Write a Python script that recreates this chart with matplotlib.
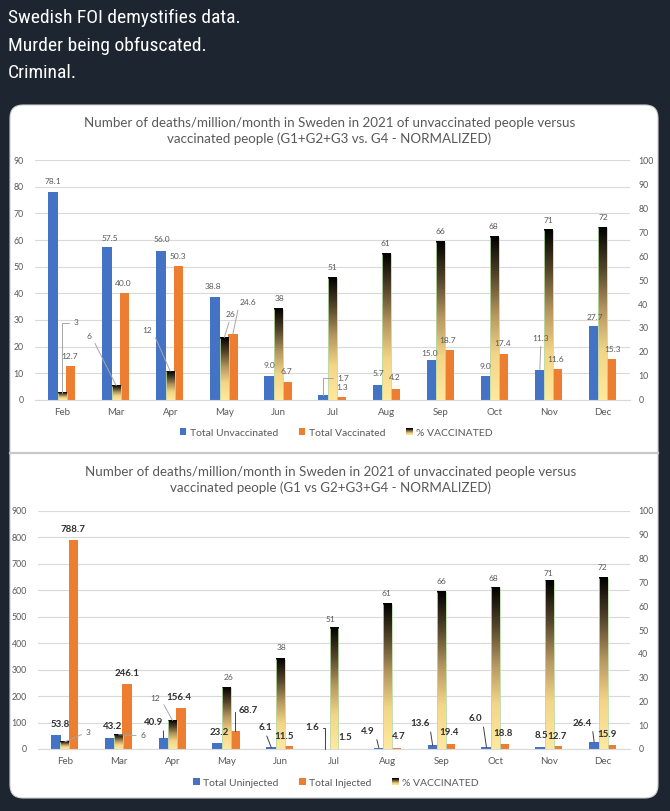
import matplotlib
matplotlib.use('Agg')
import matplotlib.pyplot as plt
import numpy as np
from matplotlib.patches import FancyBboxPatch, Rectangle, Patch
from matplotlib.colors import LinearSegmentedColormap
from matplotlib.legend_handler import HandlerBase
from matplotlib import font_manager, transforms
from matplotlib.lines import Line2D

# ---------------- data ----------------
months = ['Feb', 'Mar', 'Apr', 'May', 'Jun', 'Jul', 'Aug', 'Sep', 'Oct', 'Nov', 'Dec']
top_unvax = [78.1, 57.5, 56.0, 38.8, 9.0, 1.7, 5.7, 15.0, 9.0, 11.3, 27.7]
top_vax = [12.7, 40.0, 50.3, 24.6, 6.7, 1.3, 4.2, 18.7, 17.4, 11.6, 15.3]
pct_vax = [3, 6, 12, 26, 38, 51, 61, 66, 68, 71, 72]
bot_uninj = [53.8, 43.2, 40.9, 23.2, 6.1, 1.6, 4.9, 13.6, 6.0, 8.5, 26.4]
bot_inj = [788.7, 246.1, 156.4, 68.7, 11.5, 1.5, 4.7, 19.4, 18.8, 12.7, 15.9]

tweet_lines = ['Swedish FOI demystifies data.', 'Murder being obfuscated.', 'Criminal.']
top_title = ('Number of deaths/million/month in Sweden in 2021 of unvaccinated people versus\n'
             'vaccinated people (G1+G2+G3 vs. G4 - NORMALIZED)')
bot_title = ('Number of deaths/million/month in Sweden in 2021 of unvaccinated people versus\n'
             'vaccinated people (G1 vs G2+G3+G4 - NORMALIZED)')
top_legend = ['Total Unvaccinated', 'Total Vaccinated', '% VACCINATED']
bot_legend = ['Total Uninjected', 'Total Injected', '% VACCINATED']

# label placement (pixel offsets from bar top, leader kind: 0 none, 1 straight, 2 elbow)
top_blue_off = [(0, 10, 0), (3, 8, 0), (1, 11, 0), (-2, 10, 0), (0, 10, 0), (20, 17, 2),
                (1, 11, 0), (-2, 6, 0), (0, 9, 0), (1, 31, 1), (1, 9, 0)]
top_pct_off = [(14, 70, 2), (-27, 49, 1), (-23, 41, 1), (6, 23, 1), (1, 10, 0), (0, 10, 0),
               (-1, 10, 0), (0, 10, 0), (-1, 10, 0), (0, 9, 0), (0, 10, 0)]
top_orng_off = [(-1, 10, 0), (-1, 10, 0), (-1, 9, 0), (15, 32, 1), (-1, 11, 0), (1, 9, 0),
                (0, 11, 0), (-2, 10, 0), (-1, 10, 0), (-2, 10, 0), (1, 10, 0)]
bot_blue_off = [(4, 10, 0), (3, 10.6, 0), (-10, 16, 1), (2, 10, 0), (-6, 20, 1), (-13, 20.6, 2),
                (-11, 16.7, 1), (-13, 22, 1), (-11, 29, 1), (1, 11, 0), (-12, 19, 1)]
bot_pct_off = [(23, 9, 1), (24, -1, 1), (-17, 22, 1), (2, 10, 0), (1, 10.6, 0), (-4, 8.6, 0),
               (-1, 10, 0), (0, 10, 0), (-2, 9, 0), (-1, 7, 0), (-1, 10.6, 0)]
bot_orng_off = [(0, 10.5, 0), (0, 10, 0), (-2, 10.6, 0), (13, 20, 2), (-5, 9, 0), (2.5, 11.6, 0),
                (2, 10.8, 0), (-1, 11, 0), (-1, 11, 0), (-1, 9.6, 0), (-5, 10, 0)]

# ---------------- style ----------------
W, H = 670, 811
BG = '#1c2530'
BLUE = '#4472c4'
ORANGE = '#ed7d31'
GRID = '#d9d9d9'
TXT = '#595959'
grad_cmap = LinearSegmentedColormap.from_list(
    'g', [(0, '#ffe99e'), (0.28, '#f3d587'), (0.52, '#b69760'), (0.76, '#54452a'), (1, '#000000')])

avail = {f.name for f in font_manager.fontManager.ttflist}
def pick(*names):
    for n in names:
        if n in avail:
            return n
    return 'DejaVu Sans'
chart_font = pick('Lato', 'Open Sans', 'DejaVu Sans')
tweet_font = pick('Liberation Sans Narrow', 'Roboto Condensed', 'Liberation Sans')
plt.rcParams['font.family'] = [chart_font, 'DejaVu Sans']

fig = plt.figure(figsize=(W / 100, H / 100), dpi=100)
fig.patch.set_facecolor(BG)
ident = transforms.IdentityTransform()

def pxy(x, y):
    return x, H - y

# white panel
panel = FancyBboxPatch(pxy(10, 798), 648, 693, boxstyle='round,pad=0,rounding_size=13',
                       transform=ident, facecolor='white', edgecolor='#d0d0d0', lw=0.8, zorder=-10)
fig.add_artist(panel)
fig.add_artist(Line2D([10, 658], [H - 453, H - 453], transform=ident, color='#c8c8c8', lw=1.6,
                      zorder=-9))

for i, t in enumerate(tweet_lines):
    fig.text(8 / W, 1 - (18 + 27.5 * i) / H, t, color='white', fontsize=14,
             family=[tweet_font, 'DejaVu Sans'], va='center', ha='left')


class GradHandler(HandlerBase):
    def create_artists(self, legend, orig_handle, xdescent, ydescent, width, height, fontsize, trans):
        n = 8
        arts = []
        for k in range(n):
            r = Rectangle((-xdescent, -ydescent + k * height / n), width, height / n,
                          facecolor=grad_cmap(k / (n - 1)), edgecolor='none', transform=trans)
            arts.append(r)
        return arts


def draw_chart(ax_px, title, title_y, left_max, left_step, blue, orng, pct,
               blue_off, pct_off, orng_off, legend_labels, legend_y, bold):
    x0, y0, x1, y1 = ax_px
    ax = fig.add_axes([x0 / W, 1 - y1 / H, (x1 - x0) / W, (y1 - y0) / H])
    ax2 = ax.twinx()
    ax.set_facecolor('none')
    x = np.arange(len(months))
    bw, bo = 0.185, -0.167
    ow, oo = 0.175, 0.157
    gw = 0.165
    ax.bar(x + bo, blue, width=bw, color=BLUE, zorder=2)
    ax.bar(x + oo, orng, width=ow, color=ORANGE, zorder=2)
    gy = np.linspace(0, 1, 256).reshape(-1, 1)
    for xi, p in zip(x, pct):
        ax2.imshow(gy, extent=(xi - gw / 2, xi + gw / 2, 0, p), aspect='auto', cmap=grad_cmap,
                   origin='lower', interpolation='nearest', zorder=3)
    ax2.vlines(x - gw / 2, 0, pct, color='#b8dca8', lw=0.6, zorder=4)
    ax2.vlines(x + gw / 2, 0, pct, color='#b8dca8', lw=0.6, zorder=4)
    ax.set_xlim(-0.5, len(months) - 0.5)
    ax2.set_xlim(-0.5, len(months) - 0.5)
    ax.set_ylim(0, left_max)
    ax2.set_ylim(0, 100)
    ax.set_yticks(np.arange(0, left_max + 1, left_step))
    ax2.set_yticks(np.arange(0, 101, 10))
    ax.set_xticks(x)
    ax.set_xticklabels(months)
    ax.grid(axis='y', color=GRID, lw=0.8, zorder=0)
    ax.set_axisbelow(True)
    for a in (ax, ax2):
        for s in a.spines.values():
            s.set_visible(False)
        a.tick_params(length=0, labelsize=6.3, labelcolor=TXT)
    ax.tick_params(axis='x', labelsize=7)
    ax.spines['bottom'].set_visible(True)
    ax.spines['bottom'].set_color(GRID)
    ax.tick_params(axis='y', pad=8)
    ax.tick_params(axis='x', pad=6)
    ax2.tick_params(axis='y', pad=6)

    fig.text(0.5 * (x0 + x1) / W - 0.005, 1 - title_y / H, title, ha='center', va='center',
             fontsize=9.6, color=TXT, linespacing=1.4)

    def label(xv, yv, text, off, trans, dark):
        dx, dy, kind = off
        kw = dict(fontsize=7.0 if dark else 6.0, color='#303030' if dark else TXT,
                  fontweight='bold' if dark else 'normal')
        if kind:
            rx = 0.0 if dx > 6 else (1.0 if dx < -6 else 0.5)
            ry = 0.5 if rx != 0.5 else 0.0
            cs = 'angle,angleA=0,angleB=90,rad=0' if kind == 2 else 'arc3'
            ap = dict(arrowstyle='-', color='#404040' if dark else '#a6a6a6', lw=0.7,
                      shrinkA=1, shrinkB=0, relpos=(rx, ry), connectionstyle=cs)
        else:
            ap = None
        ax2.annotate(text, xy=(xv, yv), xycoords=trans, xytext=(dx, dy),
                     textcoords='offset pixels', ha='center', va='center',
                     arrowprops=ap, zorder=6, annotation_clip=False, **kw)

    for i in range(len(months)):
        label(x[i] + bo, blue[i], f'{blue[i]:.1f}', blue_off[i], ax.transData, bold)
        label(x[i] + oo, orng[i], f'{orng[i]:.1f}', orng_off[i], ax.transData, bold)
        label(x[i], pct[i], f'{pct[i]:d}', pct_off[i], ax2.transData, False)

    handles = [Patch(facecolor=BLUE), Patch(facecolor=ORANGE), Patch(facecolor='black')]
    fig.legend(handles, legend_labels, loc='center', bbox_to_anchor=(336 / W, 1 - legend_y / H),
               ncol=3, frameon=False, fontsize=7.5, handlelength=0.65, handleheight=0.65,
               handletextpad=0.3, columnspacing=2.0, labelcolor=TXT,
               handler_map={handles[2]: GradHandler()})


draw_chart((35, 160, 630, 400), top_title, 131, 90, 10, top_unvax, top_vax, pct_vax,
           top_blue_off, top_pct_off, top_orng_off, top_legend, 433, False)
draw_chart((38, 511, 630, 749), bot_title, 480, 900, 100, bot_uninj, bot_inj, pct_vax,
           bot_blue_off, bot_pct_off, bot_orng_off, bot_legend, 783, True)

fig.savefig('out.png', dpi=100, facecolor=BG)
